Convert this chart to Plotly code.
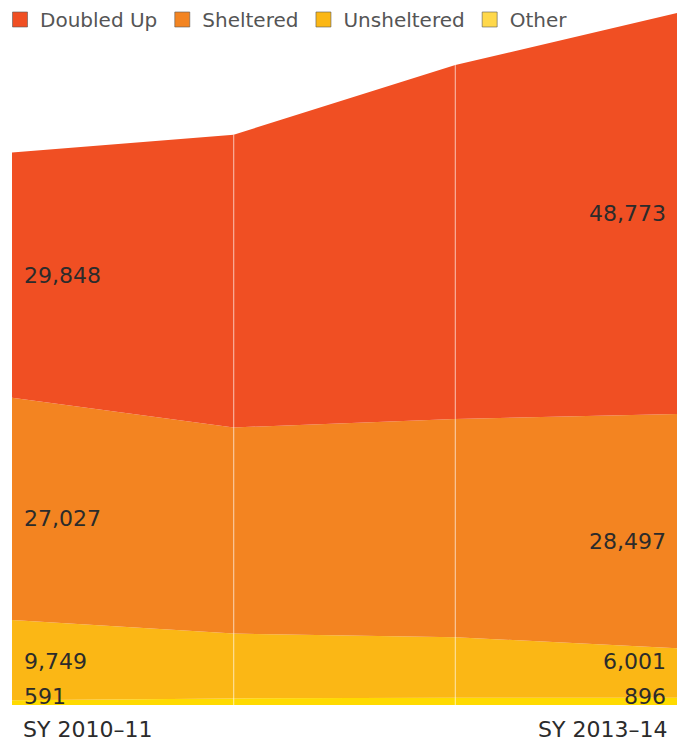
import plotly.graph_objects as go

years = ["SY 2010–11", "SY 2011–12", "SY 2012–13", "SY 2013–14"]
other = [591, 800, 880, 896]
unsheltered = [9749, 7890, 7360, 6001]
sheltered = [27027, 25070, 26560, 28497]
doubled_up = [29848, 35600, 43040, 48773]

series = [
    ("Other", other, "#FFDA00", "#FFD84A"),
    ("Unsheltered", unsheltered, "#FBB715", "#FBB715"),
    ("Sheltered", sheltered, "#F38421", "#F38421"),
    ("Doubled Up", doubled_up, "#F04F23", "#F04F23"),
]

FONT = "DejaVu Sans, Arial, sans-serif"
xs = list(range(len(years)))
fig = go.Figure()

cum = [0] * len(years)
bases = {}
for name, vals, col, _ in series:
    bases[name] = list(cum)
    cum = [c + v for c, v in zip(cum, vals)]
    fig.add_trace(go.Scatter(
        x=xs, y=vals, name=name, stackgroup="one", mode="none",
        fillcolor=col, line=dict(width=0), showlegend=False, hoverinfo="skip"))
totals = cum

# legend entries (square swatches)
for name, vals, col, lcol in reversed(series):
    fig.add_trace(go.Scatter(
        x=[None], y=[None], mode="markers", name=name,
        marker=dict(symbol="square", size=15, color=lcol,
                    line=dict(color="rgba(90,90,90,0.6)", width=1))))

# vertical white gridlines inside area
for i in [1, 2]:
    fig.add_shape(type="line", x0=i, x1=i, y0=0, y1=totals[i],
                  xref="x", yref="y", layer="above",
                  line=dict(color="rgba(255,255,255,0.55)", width=1.2))

# value labels
font = dict(family=FONT, size=22, color="#2b2b2b")
frac = {"Doubled Up": 0.5, "Sheltered": 0.455}
label_y_unsh = 5350
label_y_other = 980
for name, vals, col, _ in series:
    for idx, xanchor, xshift in [(0, "left", 10), (3, "right", -9)]:
        if name == "Unsheltered":
            y = label_y_unsh
        elif name == "Other":
            y = label_y_other
        else:
            y = bases[name][idx] + frac[name] * vals[idx]
        fig.add_annotation(x=xs[idx], y=y, xref="x", yref="y",
                           text=f"{vals[idx]:,}", showarrow=False,
                           xanchor=xanchor, yanchor="middle", xshift=xshift,
                           font=font)

# x labels
fig.add_annotation(x=0, y=0, xref="x", yref="y", text=years[0], showarrow=False,
                   xanchor="left", yanchor="top", xshift=9, yshift=-10, font=font)
fig.add_annotation(x=3, y=0, xref="x", yref="y", text=years[-1], showarrow=False,
                   xanchor="right", yanchor="top", xshift=-8, yshift=-10, font=font)

fig.update_layout(
    width=677, height=741,
    margin=dict(l=12, r=0, t=13, b=36, autoexpand=False),
    paper_bgcolor="white", plot_bgcolor="white",
    xaxis=dict(range=[0, 3], visible=False, fixedrange=True),
    yaxis=dict(range=[0, totals[3]], visible=False, fixedrange=True),
    showlegend=True,
    legend=dict(orientation="h", x=-0.018, y=1.0188, xanchor="left", yanchor="top",
                traceorder="normal",
                font=dict(family=FONT, size=20, color="#555555"),
                bgcolor="rgba(0,0,0,0)", tracegroupgap=0, itemwidth=30),
)

fig.write_html("out.html", config={"displayModeBar": False},
               post_script="document.body.style.margin='0';document.body.style.overflow='hidden';")
